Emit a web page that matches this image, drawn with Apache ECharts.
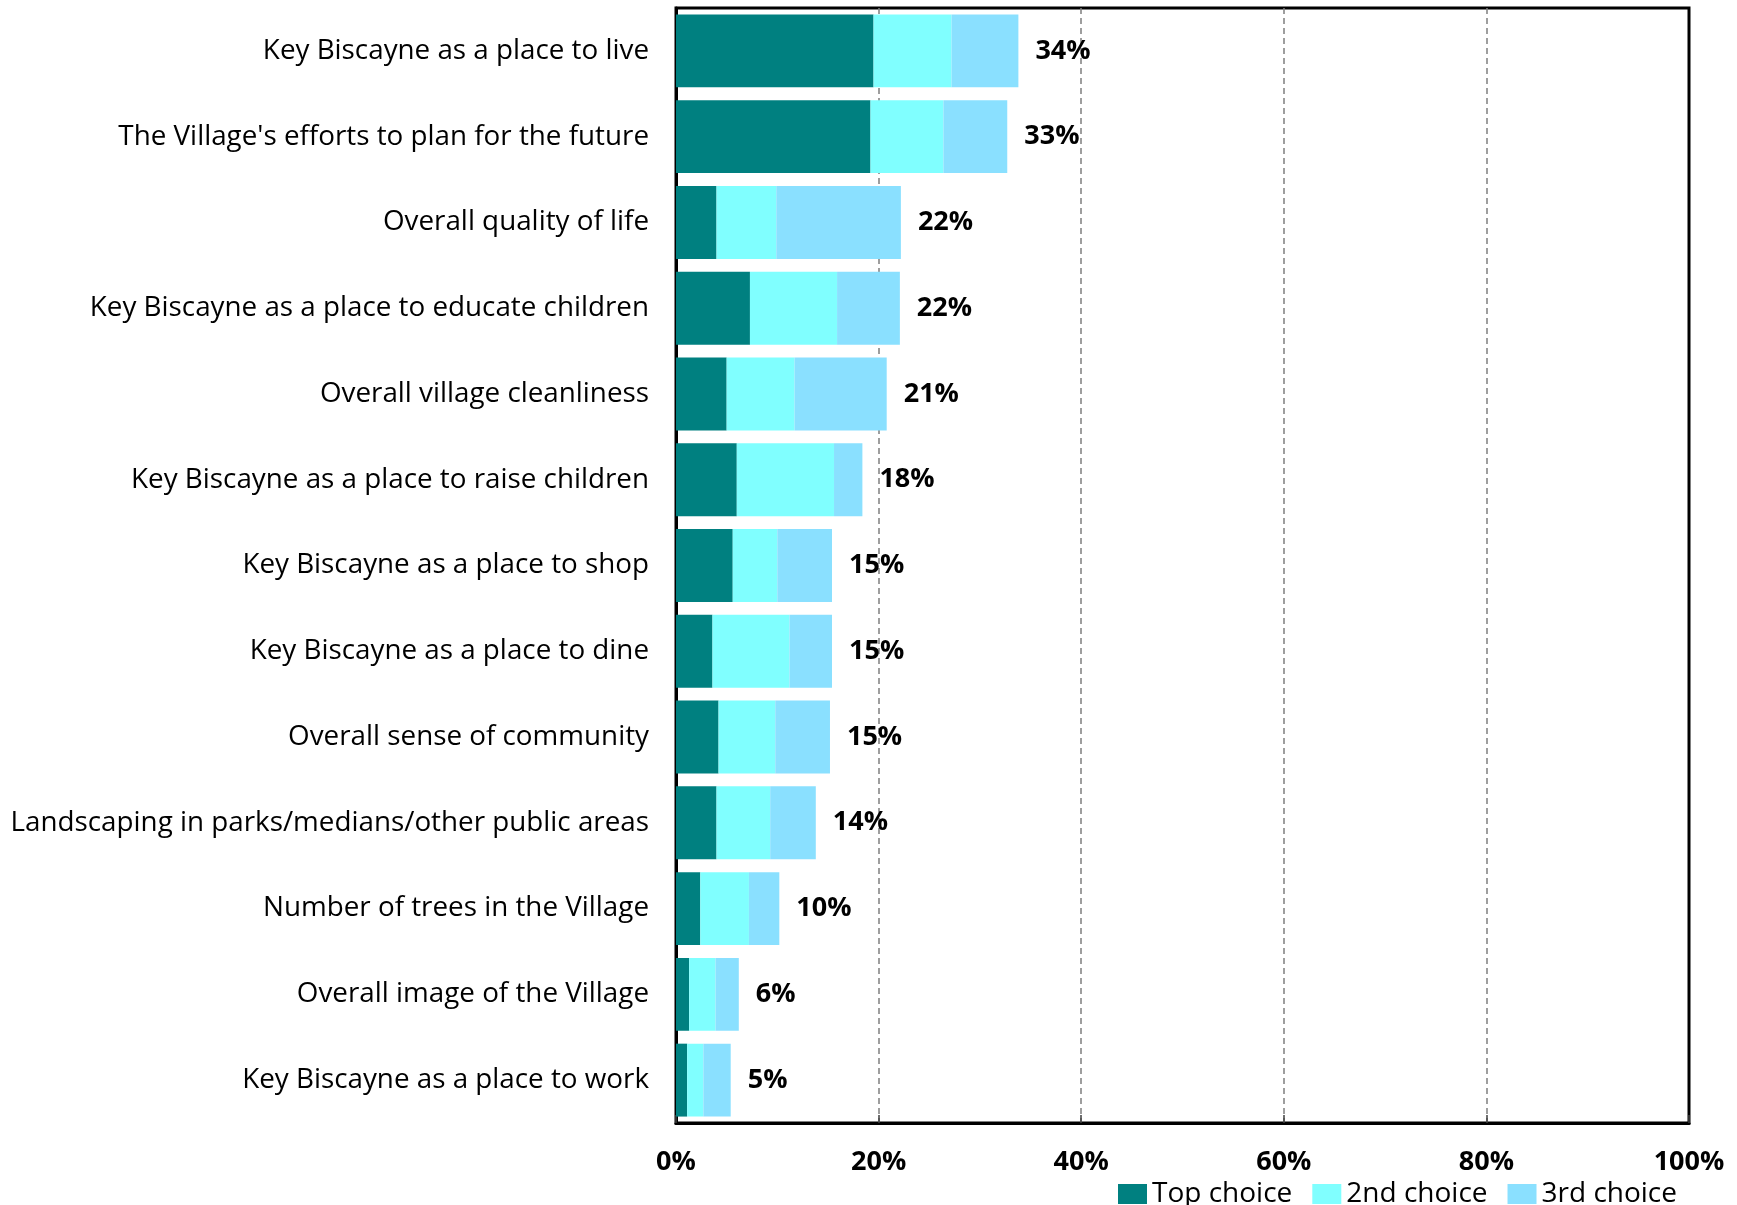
<!DOCTYPE html>
<html>
<head>
<meta charset="utf-8">
<script src="https://cdn.jsdelivr.net/npm/echarts@6/dist/echarts.min.js"></script>
<style>
  html, body { margin: 0; padding: 0; background: #fff; }
  #chart { width: 1737px; height: 1205px; }
</style>
</head>
<body>
<div id="chart"></div>
<script>
// Survey items, listed top to bottom
const categories = [
  "Key Biscayne as a place to live",
  "The Village's efforts to plan for the future",
  "Overall quality of life",
  "Key Biscayne as a place to educate children",
  "Overall village cleanliness",
  "Key Biscayne as a place to raise children",
  "Key Biscayne as a place to shop",
  "Key Biscayne as a place to dine",
  "Overall sense of community",
  "Landscaping in parks/medians/other public areas",
  "Number of trees in the Village",
  "Overall image of the Village",
  "Key Biscayne as a place to work"
];

// Share of respondents (%) naming each item as 1st, 2nd or 3rd choice
const topChoice    = [19.5, 19.2, 4.0, 7.3, 5.0, 6.0, 5.6, 3.6, 4.2, 4.0, 2.4, 1.3, 1.1];
const secondChoice = [ 7.7,  7.2, 5.9, 8.6, 6.7, 9.6, 4.4, 7.6, 5.6, 5.3, 4.8, 2.6, 1.6];
const thirdChoice  = [ 6.6,  6.3, 12.3, 6.2, 9.1, 2.8, 5.4, 4.2, 5.4, 4.5, 3.0, 2.3, 2.7];

const seriesNames = ["Top choice", "2nd choice", "3rd choice"];
const xTicks = [0, 20, 40, 60, 80, 100];

const totals = categories.map((_, i) => topChoice[i] + secondChoice[i] + thirdChoice[i]);

const chart = echarts.init(document.getElementById('chart'), null, { renderer: 'canvas' });

const baseFont = '"Open Sans", "Noto Sans", sans-serif';

chart.setOption({
  animation: false,
  backgroundColor: '#ffffff',
  textStyle: { fontFamily: baseFont },
  grid: {
    left: 676, right: 48, top: 8, bottom: 82,
    show: true, borderColor: '#000', borderWidth: 3, backgroundColor: 'transparent'
  },
  legend: {
    data: seriesNames,
    left: 1113, top: 1175,
    itemWidth: 29, itemHeight: 20, itemGap: 20,
    icon: 'rect',
    textStyle: { fontFamily: baseFont, fontSize: 28, color: '#000' }
  },
  xAxis: {
    type: 'value',
    min: xTicks[0], max: xTicks[xTicks.length - 1], interval: 20,
    axisLine: { show: true, lineStyle: { color: '#000', width: 3 } },
    axisTick: { show: true, inside: true, length: 8, lineStyle: { color: '#404040', width: 1.5 } },
    axisLabel: {
      formatter: v => v + '%', fontFamily: baseFont, fontSize: 27, fontWeight: 'bold',
      color: '#000', margin: 26
    },
    splitLine: {
      show: true, showMinLine: false, showMaxLine: false,
      lineStyle: { color: '#7f7f7f', type: [6, 4], width: 1.5 }
    }
  },
  yAxis: {
    type: 'category',
    data: categories,
    inverse: true,
    axisLine: { show: true, lineStyle: { color: '#000', width: 3 } },
    axisTick: { show: false },
    axisLabel: { fontFamily: baseFont, fontSize: 27.8, color: '#000', margin: 27 }
  },
  series: [
    { name: seriesNames[0], type: 'bar', stack: 'all', data: topChoice,
      barCategoryGap: '15%', itemStyle: { color: '#008080' } },
    { name: seriesNames[1], type: 'bar', stack: 'all', data: secondChoice,
      itemStyle: { color: '#80FFFF' } },
    { name: seriesNames[2], type: 'bar', stack: 'all', data: thirdChoice,
      itemStyle: { color: '#8AE0FF' },
      label: {
        show: true, position: 'right', distance: 17,
        formatter: p => Math.round(totals[p.dataIndex]) + '%',
        fontFamily: baseFont, fontSize: 27, fontWeight: 'bold', color: '#000'
      } }
  ]
});
</script>
</body>
</html>
